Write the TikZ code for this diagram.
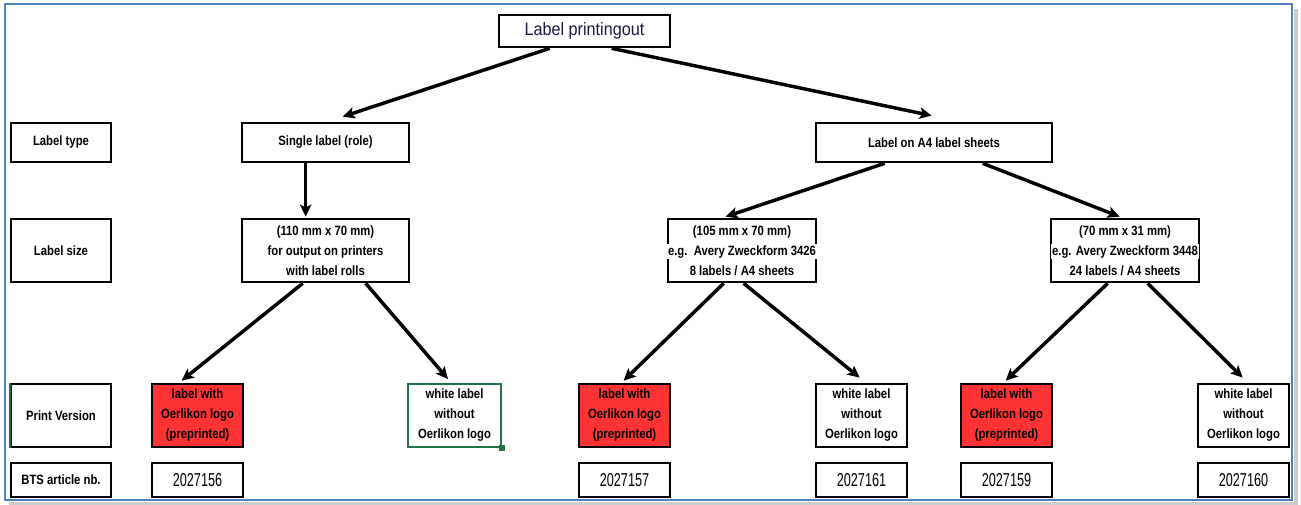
\documentclass[tikz,border=0pt]{standalone}
\usepackage{fontspec}
\setmainfont{Liberation Sans}[FakeStretch=0.84]
\newfontfamily\titlefont{Liberation Sans}[FakeStretch=0.9]
\newfontfamily\numfont{Liberation Sans}[FakeStretch=0.68]
\usetikzlibrary{arrows.meta,calc}
\definecolor{frameblue}{RGB}{79,129,189}
\definecolor{lblred}{RGB}{255,51,51}
\definecolor{xlgreen}{RGB}{33,115,70}
\definecolor{navy}{RGB}{25,25,70}
\begin{document}
\begin{tikzpicture}[x=0.75pt,y=-0.75pt,
  box/.style={draw=black,line width=2pt,inner sep=0pt,align=center,
    font=\fontsize{10.1}{15}\selectfont\bfseries},
  sz/.style 2 args={minimum width=#1*0.75pt,minimum height=#2*0.75pt},
  redbox/.style={box,fill=lblred},
  greenbox/.style={box,draw=xlgreen,line width=1.5pt},
  numbox/.style={box,font=\numfont\fontsize{14}{16}\selectfont},
  titlebox/.style={box,font=\titlefont\fontsize{13.5}{16}\selectfont\color{navy}},
  conn/.style={line width=2.6pt,-{Stealth[length=9pt,width=8.5pt,inset=2pt]}},
]
\useasboundingbox (0,0) rectangle (1301,505);
\fill[white] (0,0) rectangle (1301,505);
% frame with shadow
\draw[black!20,line width=2.5pt] (1296,9) -- (1296,503.5) -- (9,503.5);
\draw[frameblue,line width=1.6pt] (5,4) rectangle (1292,500);

% title
\node[titlebox,sz={171}{32}] (title) at (584.5,31) {Label printingout};

% left column
\node[box,sz={100}{39}] (hType) at (61,142.5) {Label type};
\node[box,sz={100}{63}] (hSize) at (61,250.5) {Label size};
\node[box,sz={100}{63}] (hPrint) at (61,415.5) {Print Version};
\node[box,sz={100}{34}] (hBTS) at (61,480) {BTS article nb.};
\draw[xlgreen,line width=1.5pt] (hPrint.north west) -- (hPrint.south west);

% label type
\node[box,sz={167}{39}] (single) at (325.5,142.5) {Single label (role)};
\node[box,sz={236}{39}] (A4) at (934,142.5) {Label on A4 label sheets};

% label size
\node[box,sz={167}{63}] (size1) at (325.5,250.5) {(110 mm x 70 mm)\\for output on printers\\with label rolls};
\node[box,sz={148}{63}] (size2) at (742,250.5) {(105 mm x 70 mm)\\\makebox[0pt]{\fboxsep=1pt\colorbox{white}{e.g.\ \ Avery Zweckform 3426}}\\8 labels / A4 sheets};
\node[box,sz={148}{63}] (size3) at (1125,250.5) {(70 mm x 31 mm)\\\makebox[0pt]{\fboxsep=1pt\colorbox{white}{e.g. Avery Zweckform 3448}}\\24 labels / A4 sheets};

% print version
\node[redbox,sz={91}{63}] (r1) at (197.5,415.5) {label with\\Oerlikon logo\\(preprinted)};
\node[greenbox,sz={93}{63}] (w1) at (454.5,415.5) {white label\\without\\Oerlikon logo};
\fill[xlgreen] ($(w1.south east)+(-3,-3)$) rectangle ($(w1.south east)+(3,3)$);
\node[redbox,sz={91}{63}] (r2) at (624.5,415.5) {label with\\Oerlikon logo\\(preprinted)};
\node[box,sz={91}{63}] (w2) at (861.5,415.5) {white label\\without\\Oerlikon logo};
\node[redbox,sz={91}{63}] (r3) at (1006.5,415.5) {label with\\Oerlikon logo\\(preprinted)};
\node[box,sz={91}{63}] (w3) at (1243.5,415.5) {white label\\without\\Oerlikon logo};

% article numbers
\node[numbox,sz={91}{34}] (n1) at (197.5,480) {2027156};
\node[numbox,sz={91}{34}] (n2) at (624.5,480) {2027157};
\node[numbox,sz={91}{34}] (n3) at (861.5,480) {2027161};
\node[numbox,sz={91}{34}] (n4) at (1006.5,480) {2027159};
\node[numbox,sz={91}{34}] (n5) at (1243.5,480) {2027160};

% connectors
\draw[conn] ($(title.south west)+(52,0)$) -- ($(single.north west)+(102,-5)$);
\draw[conn] ($(title.south west)+(114,0)$) -- ($(A4.north west)+(117,-6)$);
\draw[conn] ($(single.south west)+(65,0)$) -- ($(size1.north west)+(65,-1)$);
\draw[conn] ($(A4.south west)+(70,0)$) -- ($(size2.north west)+(59,-1)$);
\draw[conn] ($(A4.south west)+(168,0)$) -- ($(size3.north west)+(70,-1)$);
\draw[conn] ($(size1.south west)+(62,0)$) -- ($(r1.north west)+(31,-2)$);
\draw[conn] ($(size1.south west)+(125,0)$) -- ($(w1.north west)+(41,-4)$);
\draw[conn] ($(size2.south west)+(57,0)$) -- ($(r2.north west)+(46,-2)$);
\draw[conn] ($(size2.south west)+(77,0)$) -- ($(w2.north west)+(45,-5)$);
\draw[conn] ($(size3.south west)+(58,0)$) -- ($(r3.north west)+(46,-2)$);
\draw[conn] ($(size3.south west)+(98,0)$) -- ($(w3.north west)+(46,-5)$);
\end{tikzpicture}
\end{document}
